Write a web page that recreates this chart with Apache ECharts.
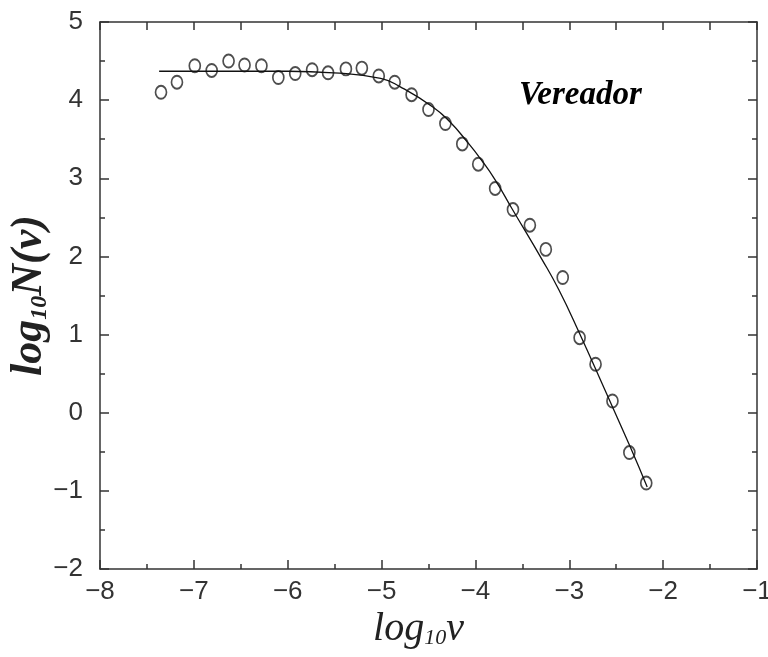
<!DOCTYPE html>
<html><head><meta charset="utf-8">
<script src="https://cdn.jsdelivr.net/npm/echarts@6/dist/echarts.min.js"></script>
<style>html,body{margin:0;padding:0;background:#fff}#c{width:768px;height:657px}</style>
</head><body><div id="c"></div>
<script>
// ---- data ----
const xTicks = [-8, -7, -6, -5, -4, -3, -2, -1];
const yTicks = [-2, -1, 0, 1, 2, 3, 4, 5];
const obsX = [-7.35, -7.18, -6.99, -6.81, -6.63, -6.46, -6.28, -6.10, -5.92, -5.74,
              -5.57, -5.38, -5.21, -5.03, -4.86, -4.68, -4.50, -4.32, -4.14, -3.97,
              -3.79, -3.60, -3.42, -3.25, -3.07, -2.89, -2.72, -2.54, -2.36, -2.18];
const obsY = [4.10, 4.23, 4.44, 4.38, 4.50, 4.45, 4.44, 4.29, 4.34, 4.39,
              4.35, 4.40, 4.41, 4.31, 4.23, 4.07, 3.88, 3.70, 3.44, 3.18,
              2.87, 2.60, 2.40, 2.09, 1.73, 0.96, 0.62, 0.15, -0.51, -0.90];
const fitX = [-7.37, -6.5, -6.0, -5.51, -5.01, -4.80, -4.45, -4.27, -4.09, -3.94, -3.79, -3.61, -3.29, -3.11, -2.90, -2.62, -2.35, -2.17];
const fitY = [4.37, 4.37, 4.37, 4.35, 4.28, 4.17, 3.91, 3.72, 3.47, 3.24, 2.98, 2.61, 1.96, 1.57, 1.04, 0.29, -0.44, -0.95];
const panelLabel = 'Vereador';

const fmt = v => (v < 0 ? '\u2212' + Math.abs(v) : String(v));
const labelFont = {fontFamily: '"Liberation Sans Narrow", "Liberation Sans", Arial, sans-serif', fontSize: 26, color: '#333'};
const axisLineStyle = {color: '#333', width: 1.5};
const serif = '"Liberation Serif", "DejaVu Serif", serif';
const xRich = {
  a: {fontFamily: serif, fontStyle: 'italic', fontSize: 40, color: '#222', lineHeight: 40},
  s: {fontFamily: serif, fontStyle: 'italic', fontSize: 22, color: '#222', lineHeight: 12, verticalAlign: 'bottom'}
};
const yRich = {
  a: {fontFamily: serif, fontStyle: 'italic', fontWeight: 'bold', fontSize: 44, color: '#222', lineHeight: 44},
  s: {fontFamily: serif, fontStyle: 'italic', fontWeight: 'bold', fontSize: 24, color: '#222', lineHeight: 12, verticalAlign: 'bottom'}
};

const chart = echarts.init(document.getElementById('c'), null, {renderer: 'canvas'});
chart.setOption({
  animation: false,
  backgroundColor: '#fff',
  title: {
    text: panelLabel, left: 514, top: 74,
    textStyle: {fontFamily: serif, fontStyle: 'italic', fontWeight: 'bold', fontSize: 33, color: '#000'}
  },
  grid: {left: 100, right: 11, top: 22, bottom: 88, containLabel: false, outerBoundsMode: 'none'},
  xAxis: [{
    type: 'value', position: 'bottom', min: xTicks[0], max: xTicks[xTicks.length - 1], interval: 1,
    axisLine: {onZero: false, lineStyle: axisLineStyle},
    axisTick: {inside: true, length: 9, lineStyle: axisLineStyle},
    minorTick: {show: true, splitNumber: 2, length: 5, lineStyle: axisLineStyle},
    splitLine: {show: false},
    axisLabel: Object.assign({margin: 10, formatter: fmt}, labelFont),
    name: '{a|log}{s|10}{a|\u03bd}', nameLocation: 'middle', nameGap: 40, nameMoveOverlap: false,
    nameTextStyle: {rich: xRich, padding: [0, 20, 0, 0]}
  }, {
    type: 'value', position: 'top', min: xTicks[0], max: xTicks[xTicks.length - 1], interval: 1,
    axisLine: {onZero: false, lineStyle: axisLineStyle},
    axisTick: {inside: true, length: 8, lineStyle: axisLineStyle},
    minorTick: {show: true, splitNumber: 2, length: 8, lineStyle: axisLineStyle},
    splitLine: {show: false}, axisLabel: {show: false}
  }],
  yAxis: [{
    type: 'value', position: 'left', min: yTicks[0], max: yTicks[yTicks.length - 1], interval: 1,
    axisLine: {onZero: false, lineStyle: axisLineStyle},
    axisTick: {inside: true, length: 9, lineStyle: axisLineStyle},
    minorTick: {show: true, splitNumber: 2, length: 5, lineStyle: axisLineStyle},
    splitLine: {show: false},
    axisLabel: Object.assign({margin: 17, formatter: fmt}, labelFont),
    name: '{a|log}{s|10}{a|N(\u03bd)}', nameLocation: 'middle', nameRotate: 90, nameGap: 48, nameMoveOverlap: false,
    nameTextStyle: {rich: yRich}
  }, {
    type: 'value', position: 'right', min: yTicks[0], max: yTicks[yTicks.length - 1], interval: 1,
    axisLine: {onZero: false, lineStyle: axisLineStyle},
    axisTick: {inside: true, length: 9, lineStyle: axisLineStyle},
    minorTick: {show: true, splitNumber: 2, length: 5, lineStyle: axisLineStyle},
    splitLine: {show: false}, axisLabel: {show: false}
  }],
  series: [{
    type: 'scatter', xAxisIndex: 0, yAxisIndex: 0,
    data: obsX.map((x, i) => [x, obsY[i]]),
    symbol: 'circle', symbolSize: [11, 13],
    itemStyle: {color: 'rgba(0,0,0,0)', borderColor: '#222', borderWidth: 1.8},
    z: 2
  }, {
    type: 'line', xAxisIndex: 0, yAxisIndex: 0,
    data: fitX.map((x, i) => [x, fitY[i]]),
    showSymbol: false, smooth: 0.5,
    lineStyle: {color: '#111', width: 1.3},
    z: 3
  }]
});
</script>
</body></html>
